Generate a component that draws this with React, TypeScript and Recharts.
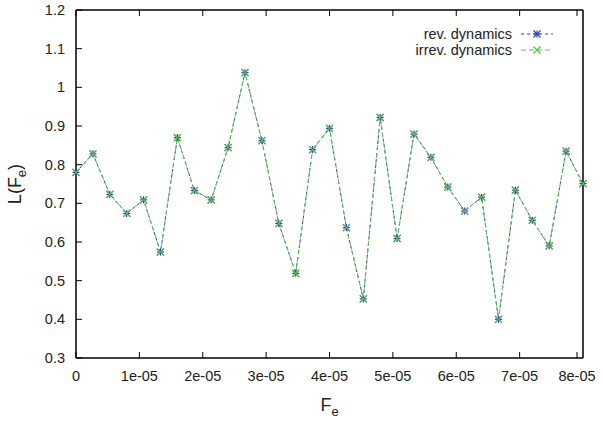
import { LineChart, Line, XAxis, YAxis, Legend } from 'recharts';

const xValues = [
  0, 0.2667e-5, 0.5333e-5, 0.8e-5, 1.0667e-5, 1.3333e-5, 1.6e-5, 1.8667e-5, 2.1333e-5, 2.4e-5,
  2.6667e-5, 2.9333e-5, 3.2e-5, 3.4667e-5, 3.7333e-5, 4e-5, 4.2667e-5, 4.5333e-5, 4.8e-5, 5.0667e-5,
  5.3333e-5, 5.6e-5, 5.8667e-5, 6.1333e-5, 6.4e-5, 6.6667e-5, 6.9333e-5, 7.2e-5, 7.4667e-5, 7.7333e-5, 8e-5,
];

const revValues = [
  0.78, 0.828, 0.723, 0.674, 0.709, 0.574, 0.87, 0.733, 0.709, 0.844,
  1.038, 0.862, 0.648, 0.519, 0.839, 0.894, 0.637, 0.453, 0.922, 0.609,
  0.879, 0.819, 0.742, 0.68, 0.716, 0.4, 0.734, 0.656, 0.59, 0.835, 0.751,
];

const irrevValues = [
  0.78, 0.828, 0.723, 0.674, 0.709, 0.574, 0.87, 0.733, 0.709, 0.844,
  1.038, 0.862, 0.648, 0.519, 0.839, 0.894, 0.637, 0.453, 0.922, 0.609,
  0.879, 0.819, 0.742, 0.68, 0.716, 0.4, 0.734, 0.656, 0.59, 0.835, 0.751,
];

const xTicks = [0, 1e-5, 2e-5, 3e-5, 4e-5, 5e-5, 6e-5, 7e-5, 8e-5];
const xTickLabels = ['0', '1e-05', '2e-05', '3e-05', '4e-05', '5e-05', '6e-05', '7e-05', '8e-05'];
const yTicks = [0.3, 0.4, 0.5, 0.6, 0.7, 0.8, 0.9, 1.0, 1.1, 1.2];
const yTickLabels = ['0.3', '0.4', '0.5', '0.6', '0.7', '0.8', '0.9', '1', '1.1', '1.2'];

const data = xValues.map((x, i) => ({ x, rev: revValues[i], irrev: irrevValues[i] }));

const FONT = '"Liberation Sans", Arial, sans-serif';
const BLUE = '#2f43b3';
const GREEN = '#5cc24a';
const TEXT = '#222';
const TICK_FS = 14.5;

const BottomTick = (props: any) => {
  const { x, y, index } = props;
  return (
    <g>
      <line x1={x} y1={y} x2={x} y2={y - 6} stroke="#000" strokeWidth={1} />
      <text x={x} y={y + 23} textAnchor="middle" fontSize={TICK_FS} fontFamily={FONT} fill={TEXT}>
        {xTickLabels[index]}
      </text>
    </g>
  );
};

const TopTick = (props: any) => {
  const { x, y } = props;
  return <line x1={x} y1={y} x2={x} y2={y + 6} stroke="#000" strokeWidth={1} />;
};

const LeftTick = (props: any) => {
  const { x, y, index } = props;
  return (
    <g>
      <line x1={x} y1={y} x2={x + 6} y2={y} stroke="#000" strokeWidth={1} />
      <text x={x - 11} y={y + 5} textAnchor="end" fontSize={TICK_FS} fontFamily={FONT} fill={TEXT}>
        {yTickLabels[index]}
      </text>
    </g>
  );
};

const RightTick = (props: any) => {
  const { x, y } = props;
  return <line x1={x} y1={y} x2={x - 6} y2={y} stroke="#000" strokeWidth={1} />;
};

const StarDot = (props: any) => {
  const { cx, cy, index } = props;
  const r = 3.5;
  return (
    <g key={`rev-${index}`} stroke={BLUE} strokeWidth={1.2}>
      <line x1={cx - r} y1={cy} x2={cx + r} y2={cy} />
      <line x1={cx} y1={cy - r} x2={cx} y2={cy + r} />
      <line x1={cx - r} y1={cy - r} x2={cx + r} y2={cy + r} />
      <line x1={cx - r} y1={cy + r} x2={cx + r} y2={cy - r} />
    </g>
  );
};

const CrossDot = (props: any) => {
  const { cx, cy, index } = props;
  const r = 3.5;
  return (
    <g key={`irrev-${index}`} stroke={GREEN} strokeWidth={1.2}>
      <line x1={cx - r} y1={cy - r} x2={cx + r} y2={cy + r} />
      <line x1={cx - r} y1={cy + r} x2={cx + r} y2={cy - r} />
    </g>
  );
};

const XLabel = (props: any) => {
  const { viewBox } = props;
  const cx = viewBox.x + viewBox.width / 2;
  return (
    <text x={cx} y={411} textAnchor="middle" fontSize={18} fontFamily={FONT} fill={TEXT}>
      F<tspan fontSize={13} dy={5}>e</tspan>
    </text>
  );
};

const YLabel = (props: any) => {
  const { viewBox } = props;
  const cy = viewBox.y + viewBox.height / 2;
  return (
    <text
      x={21}
      y={cy}
      transform={`rotate(-90, 21, ${cy})`}
      textAnchor="middle"
      fontSize={18}
      fontFamily={FONT}
      fill={TEXT}
    >
      L(F<tspan fontSize={13} dy={5}>e</tspan>
      <tspan dy={-5}>)</tspan>
    </text>
  );
};

const legendItems = [
  { label: 'rev. dynamics', color: BLUE, dash: '3 3', marker: 'star' },
  { label: 'irrev. dynamics', color: GREEN, dash: '5 3', marker: 'cross' },
];

const LegendBox = () => (
  <div style={{ fontFamily: FONT, fontSize: TICK_FS, color: TEXT }}>
    {legendItems.map((item) => (
      <div
        key={item.label}
        style={{ display: 'flex', justifyContent: 'flex-end', alignItems: 'center', height: 16 }}
      >
        <span>{item.label}</span>
        <svg width={32} height={10} style={{ marginLeft: 9 }}>
          <line x1={0} y1={5} x2={32} y2={5} stroke={item.color} strokeDasharray={item.dash} />
          <g stroke={item.color} strokeWidth={1.2}>
            <line x1={12.5} y1={1.5} x2={19.5} y2={8.5} />
            <line x1={12.5} y1={8.5} x2={19.5} y2={1.5} />
            {item.marker === 'star' && (
              <>
                <line x1={12.5} y1={5} x2={19.5} y2={5} />
                <line x1={16} y1={1.5} x2={16} y2={8.5} />
              </>
            )}
          </g>
        </svg>
      </div>
    ))}
  </div>
);

export default function App() {
  return (
    <div style={{ position: 'absolute', left: 0, top: 0 }}>
      <LineChart
        width={603}
        height={422}
        data={data}
        margin={{ top: 9, right: 19, left: 0, bottom: 0 }}
      >
        <XAxis
          dataKey="x"
          type="number"
          domain={[0, 8e-5]}
          ticks={xTicks}
          height={64}
          tickSize={0}
          tickMargin={0}
          tick={<BottomTick />}
          axisLine={{ stroke: '#000', strokeWidth: 1.5 }}
          label={<XLabel />}
        />
        <XAxis
          xAxisId="top"
          orientation="top"
          dataKey="x"
          type="number"
          domain={[0, 8e-5]}
          ticks={xTicks}
          height={1}
          tickSize={0}
          tickMargin={0}
          tick={<TopTick />}
          axisLine={{ stroke: '#000', strokeWidth: 1.5 }}
        />
        <YAxis
          type="number"
          domain={[0.3, 1.2]}
          ticks={yTicks}
          width={76}
          tickSize={0}
          tickMargin={0}
          tick={<LeftTick />}
          axisLine={{ stroke: '#000', strokeWidth: 1.5 }}
          label={<YLabel />}
        />
        <YAxis
          yAxisId="right"
          orientation="right"
          type="number"
          domain={[0.3, 1.2]}
          ticks={yTicks}
          width={1}
          tickSize={0}
          tickMargin={0}
          tick={<RightTick />}
          axisLine={{ stroke: '#000', strokeWidth: 1.5 }}
        />
        <Legend
          layout="vertical"
          align="center"
          verticalAlign="middle"
          content={<LegendBox />}
          wrapperStyle={{ position: 'absolute', top: 26, left: 350, width: 203 }}
        />
        <Line
          dataKey="rev"
          name="rev. dynamics"
          stroke={BLUE}
          strokeWidth={1}
          strokeDasharray="3 3"
          dot={<StarDot />}
          activeDot={false}
          isAnimationActive={false}
        />
        <Line
          dataKey="irrev"
          name="irrev. dynamics"
          stroke={GREEN}
          strokeWidth={1}
          strokeDasharray="5 3"
          dot={<CrossDot />}
          activeDot={false}
          isAnimationActive={false}
        />
      </LineChart>
    </div>
  );
}
